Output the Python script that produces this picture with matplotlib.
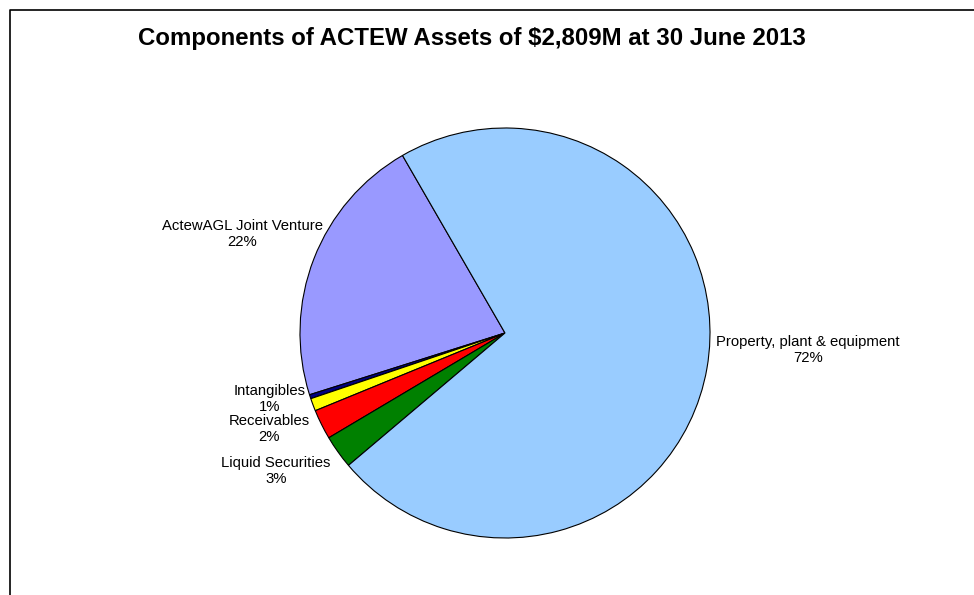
import matplotlib
matplotlib.use('Agg')
import matplotlib.pyplot as plt
import numpy as np

plt.rcParams['font.family'] = ['Liberation Sans', 'DejaVu Sans']

# ACTEW assets at 30 June 2013, $M
categories = ['ActewAGL Joint Venture', 'Other', 'Intangibles', 'Receivables',
              'Liquid Securities', 'Property, plant & equipment']
values = [605, 9, 28, 66, 74, 2027]
colors = ['#9999FF', '#000080', '#FFFF00', '#FF0000', '#008000', '#99CCFF']
show_label = [True, False, True, True, True, True]

total = sum(values)

fig = plt.figure(figsize=(9.74, 5.95), dpi=100)
ax = fig.add_axes([0, 0, 1, 1])

ax.pie(values, colors=colors, startangle=120, counterclock=True,
       center=(505, 262), radius=205, frame=True,
       wedgeprops=dict(edgecolor='black', linewidth=0.8))
ax.set_xlim(0, 974)
ax.set_ylim(0, 595)
ax.set_aspect('equal')
ax.axis('off')

# label positions (pixel-like coords of the axes)
label_pos = {
    'ActewAGL Joint Venture': (242, 361),
    'Intangibles': (270, 196),
    'Receivables': (269, 166),
    'Liquid Securities': (276, 124),
    'Property, plant & equipment': (808, 245),
}
for cat, val, show in zip(categories, values, show_label):
    if not show:
        continue
    x, y = label_pos[cat]
    pct = int(round(val / total * 100))
    ax.text(x, y, '%s\n%d%%' % (cat, pct), ha='center', va='center',
            multialignment='center', fontsize=10.7, linespacing=1.12)

ax.text(472, 556, 'Components of ACTEW Assets of $2,809M at 30 June 2013',
        ha='center', va='center', fontsize=17.3, fontweight='bold')

# outer chart frame (only top and left edges visible)
fig.add_artist(plt.Line2D([10 / 974, 10 / 974, 1.0], [0.0, 1 - 10 / 595, 1 - 10 / 595],
                          transform=fig.transFigure, color='black', linewidth=1.2))

fig.savefig('out.png', dpi=100)
